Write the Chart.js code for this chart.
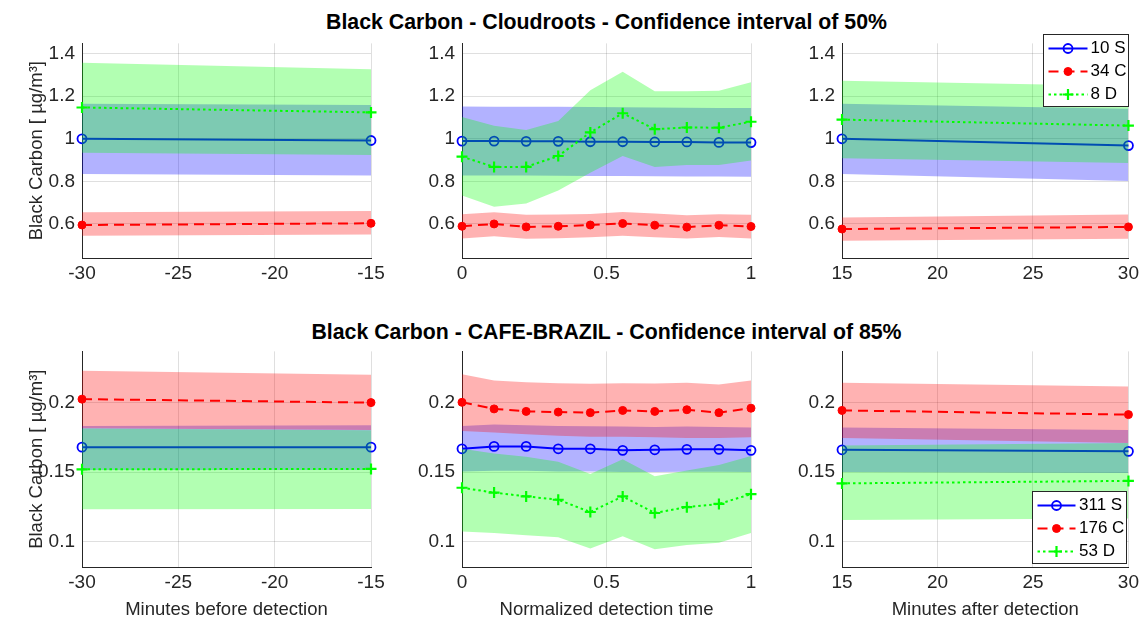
<!DOCTYPE html>
<html>
<head>
<meta charset="utf-8">
<script src="https://cdn.jsdelivr.net/npm/chart.js"></script>
<style>
  html, body { margin: 0; padding: 0; width: 1143px; height: 618px; overflow: hidden; background: #ffffff; }
  canvas { position: absolute; }
  .ttl { position: absolute; left: 606.5px; transform: translateX(-50%); white-space: nowrap;
         font-family: 'Liberation Sans', Arial, Helvetica, sans-serif; font-weight: bold;
         font-size: 21.3px; line-height: 24px; color: #000; }
</style>
</head>
<body>
<div class="ttl" id="t1" style="top:10px">Black Carbon - Cloudroots - Confidence interval of 50%</div>
<div class="ttl" id="t2" style="top:320px">Black Carbon - CAFE-BRAZIL - Confidence interval of 85%</div>
<script>
// ---------------- DATA ----------------
const xBefore = [-30, -15];
const xDuring = [0, 0.111, 0.222, 0.333, 0.444, 0.556, 0.667, 0.778, 0.889, 1];
const xAfter = [15, 30];

const xTicksBefore = [-30, -25, -20, -15];
const xTicksDuring = [0, 0.5, 1];
const xTicksAfter = [15, 20, 25, 30];
const yTicksCloud = [0.6, 0.8, 1, 1.2, 1.4];
const yTicksCafe = [0.1, 0.15, 0.2];

const legendCloud = ['10 S', '34 C', '8 D'];
const legendCafe = ['311 S', '176 C', '53 D'];

// Cloudroots - before
const crBeforeS = [1.0, 0.992];
const crBeforeSLo = [0.834, 0.828];
const crBeforeSHi = [1.164, 1.159];
const crBeforeC = [0.595, 0.603];
const crBeforeCLo = [0.544, 0.550];
const crBeforeCHi = [0.655, 0.661];
const crBeforeD = [1.147, 1.124];
const crBeforeDLo = [0.934, 0.924];
const crBeforeDHi = [1.357, 1.327];

// Cloudroots - during
const crDuringS = [0.989, 0.989, 0.988, 0.988, 0.986, 0.986, 0.985, 0.985, 0.983, 0.982];
const crDuringSLo = [0.828, 0.827, 0.827, 0.826, 0.825, 0.825, 0.824, 0.823, 0.823, 0.822];
const crDuringSHi = [1.152, 1.151, 1.151, 1.150, 1.149, 1.148, 1.147, 1.146, 1.145, 1.144];
const crDuringC = [0.589, 0.600, 0.586, 0.589, 0.595, 0.602, 0.594, 0.585, 0.594, 0.588];
const crDuringCLo = [0.532, 0.542, 0.530, 0.533, 0.538, 0.545, 0.538, 0.532, 0.539, 0.532];
const crDuringCHi = [0.646, 0.655, 0.643, 0.644, 0.647, 0.656, 0.649, 0.641, 0.646, 0.643];
const crDuringD = [0.916, 0.868, 0.868, 0.919, 1.030, 1.120, 1.045, 1.053, 1.052, 1.080];
const crDuringDLo = [0.734, 0.681, 0.696, 0.757, 0.840, 0.919, 0.868, 0.877, 0.877, 0.898];
const crDuringDHi = [1.102, 1.061, 1.041, 1.083, 1.228, 1.315, 1.223, 1.223, 1.226, 1.266];

// Cloudroots - after
const crAfterS = [1.0, 0.968];
const crAfterSLo = [0.834, 0.802];
const crAfterSHi = [1.164, 1.141];
const crAfterC = [0.576, 0.586];
const crAfterCLo = [0.521, 0.530];
const crAfterCHi = [0.630, 0.644];
const crAfterD = [1.090, 1.062];
const crAfterDLo = [0.909, 0.886];
const crAfterDHi = [1.273, 1.248];

// CAFE-BRAZIL - before
const cbBeforeS = [0.1679, 0.1679];
const cbBeforeSLo = [0.1516, 0.1516];
const cbBeforeSHi = [0.1830, 0.1835];
const cbBeforeC = [0.2023, 0.1998];
const cbBeforeCLo = [0.1814, 0.1802];
const cbBeforeCHi = [0.2226, 0.2198];
const cbBeforeD = [0.1520, 0.1523];
const cbBeforeDLo = [0.1233, 0.1235];
const cbBeforeDHi = [0.1812, 0.1800];

// CAFE-BRAZIL - during
const cbDuringS = [0.1667, 0.1684, 0.1684, 0.1667, 0.1667, 0.1656, 0.1660, 0.1663, 0.1663, 0.1656];
const cbDuringSLo = [0.1505, 0.1510, 0.1510, 0.1505, 0.1505, 0.1500, 0.1500, 0.1503, 0.1503, 0.1500];
const cbDuringSHi = [0.1830, 0.1842, 0.1835, 0.1830, 0.1828, 0.1826, 0.1823, 0.1826, 0.1823, 0.1819];
const cbDuringC = [0.2000, 0.1953, 0.1935, 0.1930, 0.1926, 0.1942, 0.1935, 0.1947, 0.1926, 0.1958];
const cbDuringCLo = [0.1795, 0.1784, 0.1772, 0.1760, 0.1753, 0.1753, 0.1749, 0.1744, 0.1744, 0.1749];
const cbDuringCHi = [0.2202, 0.2156, 0.2144, 0.2137, 0.2133, 0.2137, 0.2135, 0.2140, 0.2128, 0.2156];
const cbDuringD = [0.1388, 0.1353, 0.1326, 0.1302, 0.1214, 0.1326, 0.1207, 0.1249, 0.1272, 0.1342];
const cbDuringDLo = [0.1074, 0.1063, 0.1047, 0.1033, 0.0953, 0.1040, 0.0947, 0.0977, 0.0993, 0.1063];
const cbDuringDHi = [0.1667, 0.1633, 0.1610, 0.1574, 0.1486, 0.1593, 0.1470, 0.1512, 0.1551, 0.1616];

// CAFE-BRAZIL - after
const cbAfterS = [0.1660, 0.1649];
const cbAfterSLo = [0.1500, 0.1493];
const cbAfterSHi = [0.1819, 0.1802];
const cbAfterC = [0.1942, 0.1912];
const cbAfterCLo = [0.1744, 0.1709];
const cbAfterCHi = [0.2140, 0.2114];
const cbAfterD = [0.1419, 0.1437];
const cbAfterDLo = [0.1156, 0.1167];
const cbAfterDHi = [0.1691, 0.1709];

// ---------------- STYLE / LAYOUT ----------------
const FONT = "'Liberation Sans', Arial, Helvetica, sans-serif";
const AXC = '#262626';
const GRIDC = 'rgba(38,38,38,0.15)';
Chart.defaults.font.family = FONT;
Chart.defaults.color = AXC;

const STY = [
  { line: '#0000ff', band: 'rgba(0,0,255,0.3)', dash: [], pt: 'circle', ptFill: 'rgba(0,0,0,0)', r: 4.5, pbw: 1.8 },
  { line: '#ff0000', band: 'rgba(255,0,0,0.3)', dash: [10, 6], pt: 'circle', ptFill: '#ff0000', r: 4, pbw: 1 },
  { line: '#00ff00', band: 'rgba(0,255,0,0.3)', dash: [2.5, 3], pt: 'cross', ptFill: '#00ff00', r: 5.5, pbw: 2.2 }
];

const PLOT_W = 289;
const ROWS = [
  { plotTop: 37, plotH: 221, padT: 12, padB: 40 },
  { plotTop: 345, plotH: 222, padT: 12, padB: 54 }
];
const COLS = [
  { plotLeft: 82, padL: 82, padR: 30 },
  { plotLeft: 462, padL: 60, padR: 30 },
  { plotLeft: 842, padL: 60, padR: 12 }
];

const pts = (xs, ys) => xs.map((x, i) => ({ x: x, y: ys[i] }));

// inset legend plugin (MATLAB-like box legend)
const insetLegend = {
  id: 'insetLegend',
  afterDraw(chart, args, opts) {
    if (!opts || !opts.labels) return;
    const ctx = chart.ctx, ca = chart.chartArea;
    ctx.save();
    ctx.font = opts.fontSize + 'px ' + FONT;
    const tw = Math.max.apply(null, opts.labels.map(l => ctx.measureText(l).width));
    const w = Math.round(opts.sampleX1 + opts.textGap + tw + opts.padRight);
    const h = opts.height;
    let x0, y0;
    if (opts.anchor === 'ne') { x0 = ca.right + opts.dx - w; y0 = ca.top + opts.dy; }
    else { x0 = ca.right + opts.dx - w; y0 = ca.bottom + opts.dy - h; }
    x0 = Math.round(x0) + 0.5; y0 = Math.round(y0) + 0.5;
    ctx.fillStyle = '#ffffff';
    ctx.fillRect(x0, y0, w, h);
    ctx.strokeStyle = AXC; ctx.lineWidth = 1;
    ctx.strokeRect(x0, y0, w, h);
    opts.labels.forEach((lab, i) => {
      const s = STY[i];
      const yy = y0 + opts.rowY0 + i * opts.rowStep;
      const xa = x0 + opts.sampleX0, xb = x0 + opts.sampleX1;
      ctx.save();
      ctx.strokeStyle = s.line; ctx.lineWidth = 2; ctx.setLineDash(s.dash);
      ctx.beginPath(); ctx.moveTo(xa, yy); ctx.lineTo(xb, yy); ctx.stroke();
      ctx.setLineDash([]);
      const xm = (xa + xb) / 2;
      ctx.lineWidth = s.pbw;
      if (s.pt === 'circle') {
        ctx.beginPath(); ctx.arc(xm, yy, s.r, 0, Math.PI * 2);
        ctx.fillStyle = s.ptFill; ctx.fill(); ctx.stroke();
      } else {
        ctx.beginPath();
        ctx.moveTo(xm - s.r, yy); ctx.lineTo(xm + s.r, yy);
        ctx.moveTo(xm, yy - s.r); ctx.lineTo(xm, yy + s.r);
        ctx.stroke();
      }
      ctx.restore();
      ctx.fillStyle = '#000000';
      ctx.textBaseline = 'middle';
      ctx.textAlign = 'left';
      ctx.fillText(lab, x0 + opts.sampleX1 + opts.textGap, yy);
    });
    ctx.restore();
  }
};

function makePanel(cfg) {
  const row = ROWS[cfg.row], col = COLS[cfg.col];
  const cv = document.createElement('canvas');
  const W = col.padL + PLOT_W + col.padR;
  const H = row.padT + row.plotH + row.padB;
  cv.width = W; cv.height = H;
  cv.style.left = (col.plotLeft - col.padL) + 'px';
  cv.style.top = (row.plotTop - row.padT) + 'px';
  cv.style.width = W + 'px'; cv.style.height = H + 'px';
  document.body.appendChild(cv);

  const datasets = [];
  cfg.series.forEach((s, j) => {
    const st = STY[j];
    const lineOrder = 60 - 20 * j, bandOrder = 50 - 20 * j;
    datasets.push({ label: 'lo' + j, data: pts(cfg.xs, s.lo), borderWidth: 0, borderColor: 'rgba(0,0,0,0)',
      pointRadius: 0, fill: false, order: bandOrder });
    datasets.push({ label: 'hi' + j, data: pts(cfg.xs, s.hi), borderWidth: 0, borderColor: 'rgba(0,0,0,0)',
      pointRadius: 0, fill: '-1', backgroundColor: st.band, order: bandOrder });
    datasets.push({ label: cfg.legendLabels[j], data: pts(cfg.xs, s.mid), borderColor: st.line, borderWidth: 2,
      borderDash: st.dash, pointStyle: st.pt, pointRadius: st.r, pointBorderWidth: st.pbw,
      pointBorderColor: st.line, pointBackgroundColor: st.ptFill, fill: false, clip: false, order: lineOrder });
  });

  const tickFont = { size: 19, family: FONT };
  new Chart(cv, {
    type: 'line',
    data: { datasets: datasets },
    plugins: [insetLegend],
    options: {
      responsive: false, animation: false, devicePixelRatio: 1,
      layout: { padding: { top: row.padT, right: col.padR, left: 0, bottom: 0 } },
      elements: { line: { tension: 0 } },
      plugins: {
        legend: { display: false }, tooltip: { enabled: false },
        insetLegend: cfg.legend || {}
      },
      scales: {
        x: {
          type: 'linear', min: cfg.xTicks[0], max: cfg.xTicks[cfg.xTicks.length - 1],
          afterBuildTicks: sc => { sc.ticks = cfg.xTicks.map(v => ({ value: v })); },
          afterFit: sc => { sc.height = row.padB; },
          ticks: { font: tickFont, color: AXC, padding: 4, maxRotation: 0, autoSkip: false, callback: v => String(v) },
          grid: { color: GRIDC, drawTicks: false },
          border: { color: AXC, width: 1 },
          title: { display: !!cfg.xTitle, text: cfg.xTitle || '', font: { size: 18.5, family: FONT }, color: AXC,
                   padding: { top: 0, bottom: 0 } }
        },
        y: {
          type: 'linear', min: cfg.yMin, max: cfg.yMax,
          afterBuildTicks: sc => { sc.ticks = cfg.yTicks.map(v => ({ value: v })); },
          afterFit: sc => { sc.width = col.padL; },
          ticks: { font: tickFont, color: AXC, padding: 7, callback: v => String(v) },
          grid: { color: GRIDC, drawTicks: false },
          border: { color: AXC, width: 1 },
          title: { display: !!cfg.yTitle, text: cfg.yTitle || '', font: { size: 18.5, family: FONT }, color: AXC,
                   padding: { top: 26, bottom: 0 } }
        }
      }
    }
  });
}

const Y_TITLE = 'Black Carbon [ \u00b5g/m\u00b3]';
const cloudY = { yMin: 0.44, yMax: 1.448, yTicks: yTicksCloud };
const cafeY = { yMin: 0.082, yMax: 0.2365, yTicks: yTicksCafe };
const legendTop = { labels: legendCloud, anchor: 'ne', dx: 0, dy: -9, height: 72, rowY0: 14, rowStep: 23,
                    sampleX0: 5, sampleX1: 44, textGap: 3, padRight: 2, fontSize: 17 };
const legendBottom = { labels: legendCafe, anchor: 'se', dx: -2, dy: -4, height: 72, rowY0: 14, rowStep: 23,
                       sampleX0: 5, sampleX1: 43, textGap: 3.5, padRight: 2, fontSize: 17 };

makePanel(Object.assign({ row: 0, col: 0, xs: xBefore, xTicks: xTicksBefore, yTitle: Y_TITLE, legendLabels: legendCloud,
  series: [ { mid: crBeforeS, lo: crBeforeSLo, hi: crBeforeSHi },
            { mid: crBeforeC, lo: crBeforeCLo, hi: crBeforeCHi },
            { mid: crBeforeD, lo: crBeforeDLo, hi: crBeforeDHi } ] }, cloudY));
makePanel(Object.assign({ row: 0, col: 1, xs: xDuring, xTicks: xTicksDuring, legendLabels: legendCloud,
  series: [ { mid: crDuringS, lo: crDuringSLo, hi: crDuringSHi },
            { mid: crDuringC, lo: crDuringCLo, hi: crDuringCHi },
            { mid: crDuringD, lo: crDuringDLo, hi: crDuringDHi } ] }, cloudY));
makePanel(Object.assign({ row: 0, col: 2, xs: xAfter, xTicks: xTicksAfter, legendLabels: legendCloud, legend: legendTop,
  series: [ { mid: crAfterS, lo: crAfterSLo, hi: crAfterSHi },
            { mid: crAfterC, lo: crAfterCLo, hi: crAfterCHi },
            { mid: crAfterD, lo: crAfterDLo, hi: crAfterDHi } ] }, cloudY));

makePanel(Object.assign({ row: 1, col: 0, xs: xBefore, xTicks: xTicksBefore, yTitle: Y_TITLE, xTitle: 'Minutes before detection',
  legendLabels: legendCafe,
  series: [ { mid: cbBeforeS, lo: cbBeforeSLo, hi: cbBeforeSHi },
            { mid: cbBeforeC, lo: cbBeforeCLo, hi: cbBeforeCHi },
            { mid: cbBeforeD, lo: cbBeforeDLo, hi: cbBeforeDHi } ] }, cafeY));
makePanel(Object.assign({ row: 1, col: 1, xs: xDuring, xTicks: xTicksDuring, xTitle: 'Normalized detection time',
  legendLabels: legendCafe,
  series: [ { mid: cbDuringS, lo: cbDuringSLo, hi: cbDuringSHi },
            { mid: cbDuringC, lo: cbDuringCLo, hi: cbDuringCHi },
            { mid: cbDuringD, lo: cbDuringDLo, hi: cbDuringDHi } ] }, cafeY));
makePanel(Object.assign({ row: 1, col: 2, xs: xAfter, xTicks: xTicksAfter, xTitle: 'Minutes after detection',
  legendLabels: legendCafe, legend: legendBottom,
  series: [ { mid: cbAfterS, lo: cbAfterSLo, hi: cbAfterSHi },
            { mid: cbAfterC, lo: cbAfterCLo, hi: cbAfterCHi },
            { mid: cbAfterD, lo: cbAfterDLo, hi: cbAfterDHi } ] }, cafeY));
</script>
</body>
</html>
